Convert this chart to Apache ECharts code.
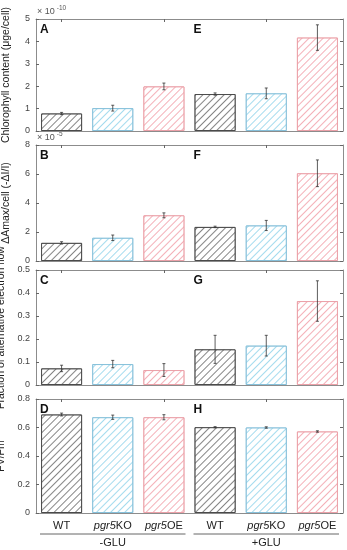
<!DOCTYPE html>
<html><head><meta charset="utf-8">
<script src="https://cdn.jsdelivr.net/npm/echarts@6/dist/echarts.min.js"></script>
<style>html,body{margin:0;padding:0;background:#fff}#c{width:347px;height:550px}</style>
</head><body><div id="c"></div>
<script>
const categories = ['WT','pgr5KO','pgr5OE','WT','pgr5KO','pgr5OE'];
const groupLabels = ['-GLU','+GLU'];
// panel A/E: chlorophyll content (x1e-10)
const chlVal = [0.78, 1.02, 1.99, 1.65, 1.68, 4.17];
const chlErr = [0.05, 0.13, 0.15, 0.05, 0.24, 0.57];
// panel B/F: dAmax/cell (x1e-5)
const damVal = [1.25, 1.6, 3.15, 2.35, 2.45, 6.05];
const damErr = [0.08, 0.19, 0.17, 0.05, 0.35, 0.92];
// panel C/G: fraction of alternative electron flow
const aefVal = [0.072, 0.091, 0.065, 0.155, 0.171, 0.365];
const aefErr = [0.014, 0.016, 0.028, 0.061, 0.045, 0.088];
// panel D/H: Fv/Fm
const fvVal = [0.691, 0.672, 0.672, 0.602, 0.600, 0.572];
const fvErr = [0.010, 0.015, 0.018, 0.004, 0.005, 0.005];

const panels = [
  {val: chlVal, err: chlErr, max: 5, interval: 1, name: 'Chlorophyll content (μge/cell)', letters: ['A','E'], exp: '-10'},
  {val: damVal, err: damErr, max: 8, interval: 2, name: 'ΔAmax/cell (-ΔI/I)', letters: ['B','F'], exp: '-5'},
  {val: aefVal, err: aefErr, max: 0.5, interval: 0.1, name: 'Fraction of alternative electron flow', letters: ['C','G'], exp: null},
  {val: fvVal, err: fvErr, max: 0.8, interval: 0.2, name: 'FV/Fm', letters: ['D','H'], exp: null}
];
const gridPos = [{top: 19, height: 112}, {top: 145, height: 116}, {top: 270, height: 115}, {top: 399, height: 114}];
const L = 36, R = 4;

function hatch(line) {
  return {symbol: 'rect', symbolSize: 1, dashArrayX: [1, 0], dashArrayY: [1, 3.2],
    rotation: -Math.PI / 4, color: line, backgroundColor: '#fff'};
}
const decals = [hatch('#858585'), hatch('#a4dbee'), hatch('#f4b0b8')];
const borders = ['#4a4a4a', '#86c0da', '#eba0a8'];
const axisCol = '#8c8c8c';

const grid = [], xAxis = [], yAxis = [], series = [], graphic = [];
panels.forEach((p, i) => {
  const g = gridPos[i];
  grid.push({left: L, right: R, top: g.top, height: g.height, containLabel: false, outerBoundsMode: 'none'});
  const last = i === panels.length - 1;
  xAxis.push({
    type: 'category', gridIndex: i, data: categories, position: 'bottom',
    axisLine: {onZero: false, lineStyle: {color: axisCol, width: 1}},
    axisTick: {show: true, inside: true, alignWithLabel: true, length: 3, lineStyle: {color: '#666'}},
    axisLabel: last ? {
      show: true, interval: 0, margin: 7, color: '#222', fontSize: 11, fontFamily: 'Liberation Sans, Arial',
      formatter: v => v.startsWith('pgr5') ? '{i|pgr5}' + v.slice(4) : v,
      rich: {i: {fontStyle: 'italic', fontSize: 11, color: '#222', fontFamily: 'Liberation Sans, Arial'}}
    } : {show: false},
    splitLine: {show: true, interval: (idx) => idx === 3, lineStyle: {color: '#9a9a9a', type: 'dotted', width: 1}}
  });
  xAxis.push({
    type: 'category', gridIndex: i, data: categories, position: 'top',
    axisLine: {onZero: false, lineStyle: {color: axisCol, width: 1}},
    axisTick: {show: true, inside: true, alignWithLabel: true, length: 3, lineStyle: {color: '#666'}},
    axisLabel: {show: false}, splitLine: {show: false}
  });
  yAxis.push({
    type: 'value', gridIndex: i, min: 0, max: p.max, interval: p.interval, position: 'left',
    name: p.name, nameLocation: 'middle', nameGap: 24, nameRotate: 90,
    nameTextStyle: {fontSize: 10.5, color: '#222', fontFamily: 'Liberation Sans, Arial'},
    axisLine: {show: true, onZero: false, lineStyle: {color: axisCol}},
    axisTick: {show: true, inside: true, length: 3, lineStyle: {color: '#666'}},
    axisLabel: {fontSize: 9, color: '#444', margin: 6, fontFamily: 'Liberation Sans, Arial',
      formatter: v => String(+v.toFixed(2))},
    splitLine: {show: false}
  });
  yAxis.push({
    type: 'value', gridIndex: i, min: 0, max: p.max, interval: p.interval, position: 'right',
    axisLine: {show: true, onZero: false, lineStyle: {color: axisCol}},
    axisTick: {show: true, inside: true, length: 3, lineStyle: {color: '#666'}},
    axisLabel: {show: false}, splitLine: {show: false}
  });
  series.push({
    type: 'bar', xAxisIndex: 2 * i, yAxisIndex: 2 * i, barWidth: 41, silent: true,
    data: p.val.map((v, k) => ({value: v, itemStyle: {color: '#fff', decal: decals[k % 3], borderColor: borders[k % 3], borderWidth: 1}}))
  });
  series.push({
    type: 'custom', xAxisIndex: 2 * i, yAxisIndex: 2 * i, silent: true, z: 5,
    data: p.val.map((v, k) => [k, v - p.err[k], v + p.err[k]]),
    renderItem: (params, api) => {
      const lo = api.coord([api.value(0), api.value(1)]);
      const hi = api.coord([api.value(0), api.value(2)]);
      const w = 1.5, st = {stroke: '#333', lineWidth: 0.8};
      return {type: 'group', children: [
        {type: 'line', shape: {x1: lo[0], y1: lo[1], x2: hi[0], y2: hi[1]}, style: st},
        {type: 'line', shape: {x1: lo[0] - w, y1: lo[1], x2: lo[0] + w, y2: lo[1]}, style: st},
        {type: 'line', shape: {x1: hi[0] - w, y1: hi[1], x2: hi[0] + w, y2: hi[1]}, style: st}
      ]};
    }
  });
  const half = (347 - L - R) / 2;
  p.letters.forEach((t, h) => {
    graphic.push({type: 'text', left: L + 4 + h * half, top: g.top + 5,
      style: {text: t, font: 'bold 12px Liberation Sans, Arial', fill: '#111'}});
  });
  if (p.exp) {
    graphic.push({type: 'text', left: L + 1, top: g.top - 14,
      style: {text: '× 10{s|' + p.exp + '}', font: '9px Liberation Sans, Arial', fill: '#555',
        rich: {s: {fontSize: 6.5, verticalAlign: 'top', padding: [0, 0, 6, 2], fill: '#555'}}}});
  }
});

// group brackets
const half = (347 - L - R) / 2;
groupLabels.forEach((t, h) => {
  const x0 = L + h * half;
  graphic.push({type: 'line', shape: {x1: x0 + 4, y1: 534, x2: x0 + half - 4, y2: 534}, style: {stroke: '#666', lineWidth: 1}});
  graphic.push({type: 'text', x: x0 + half / 2, y: 537,
    style: {text: t, font: '11px Liberation Sans, Arial', fill: '#222', textAlign: 'center', textVerticalAlign: 'top'}});
});

const chart = echarts.init(document.getElementById('c'), null, {renderer: 'canvas'});
chart.setOption({animation: false, backgroundColor: '#fff', aria: {enabled: false, decal: {show: true}}, grid, xAxis, yAxis, series, graphic});
</script></body></html>
